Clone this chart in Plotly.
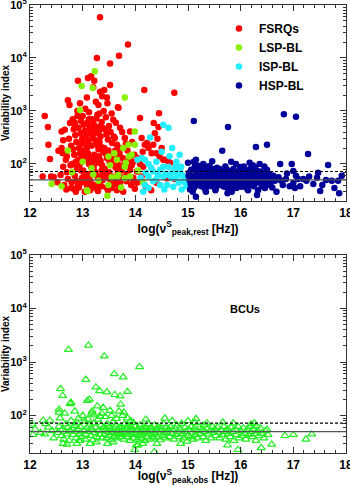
import plotly.graph_objects as go

# FSRQs (red filled circles)
fsrq_x = [12.24, 12.28, 12.34, 12.35, 12.38, 12.40, 12.45, 12.54, 12.58, 12.52,
          12.60, 12.63, 12.60, 12.62, 12.63, 12.66, 12.72, 12.75, 12.76, 12.68,
          12.70, 12.72, 12.65, 12.78, 12.74, 12.78, 12.70, 12.77, 12.69, 12.79,
          12.81, 12.85, 12.90, 12.91, 12.95, 12.97, 12.83, 12.86, 12.88, 12.92,
          12.96, 12.99, 12.82, 12.84, 12.87, 12.89, 12.93, 12.95, 12.98, 12.81,
          12.85, 12.88, 12.91, 12.94, 12.97, 12.99, 12.83, 12.87, 12.93, 12.96,
          12.80, 12.92, 12.98, 12.86, 12.90,
          13.00, 13.05, 13.08, 13.10, 13.12, 13.16, 13.18, 13.02, 13.04, 13.07,
          13.09, 13.11, 13.13, 13.15, 13.17, 13.19, 13.01, 13.03, 13.06, 13.08,
          13.10, 13.12, 13.14, 13.16, 13.18, 13.01, 13.03, 13.05, 13.07, 13.09,
          13.11, 13.13, 13.15, 13.17, 13.19, 13.04, 13.14, 13.06, 13.16, 13.12,
          13.20, 13.22, 13.25, 13.27, 13.28, 13.30, 13.33, 13.33, 13.36, 13.37,
          13.21, 13.23, 13.26, 13.29, 13.31, 13.34, 13.38, 13.24, 13.27, 13.30,
          13.32, 13.35, 13.39, 13.22, 13.25, 13.28, 13.31, 13.34, 13.37, 13.21,
          13.24, 13.27, 13.30, 13.33, 13.36, 13.39, 13.23, 13.26, 13.29, 13.35,
          13.38, 13.32, 13.26,
          13.41, 13.44, 13.46, 13.47, 13.52, 13.52, 13.55, 13.58, 13.40, 13.42,
          13.45, 13.48, 13.50, 13.53, 13.56, 13.59, 13.41, 13.43, 13.46, 13.49,
          13.51, 13.54, 13.57, 13.42, 13.44, 13.47, 13.50, 13.53, 13.56, 13.59,
          13.45, 13.48, 13.55, 13.58,
          13.61, 13.65, 13.67, 13.68, 13.69, 13.71, 13.75, 13.80, 13.65, 13.71,
          13.77, 13.62, 13.64, 13.66, 13.70, 13.73, 13.76, 13.79, 13.63, 13.67,
          13.70, 13.74, 13.78, 13.61, 13.69, 13.72, 13.63,
          13.83, 13.86, 13.90, 13.90, 13.96, 13.90, 13.96, 13.96, 13.82, 13.85,
          13.88, 13.93, 13.98, 13.84, 13.92, 13.99, 13.87, 13.94,
          14.03, 14.03, 14.09, 14.09, 14.10, 14.12, 14.12, 14.15, 14.17, 14.18,
          14.20, 14.22, 14.25, 14.30, 14.31, 14.34, 14.35, 14.37, 14.05, 14.14,
          14.40, 14.40, 14.44, 14.45, 14.46, 14.50, 14.42, 14.53, 14.56, 14.60,
          14.63, 14.66, 14.74, 14.75, 15.86, 16.41]
fsrq_y = [58, 800, 500, 230, 124, 58, 57, 178, 62, 45,
          410, 280, 200, 160, 89, 440, 1600, 1290, 590, 120,
          70, 52, 40, 35, 300, 220, 140, 95, 33, 45,
          700, 600, 1000, 3700, 1400, 650, 450, 350, 260, 480,
          380, 300, 190, 150, 110, 85, 200, 160, 130, 70,
          60, 48, 40, 95, 75, 55, 34, 30, 36, 44,
          100, 120, 240, 520, 800,
          800, 1100, 1800, 4200, 950, 4500, 700, 550, 420, 340,
          600, 270, 480, 380, 220, 310, 180, 140, 120, 200,
          160, 100, 130, 90, 110, 75, 60, 50, 42, 35,
          65, 55, 46, 38, 80, 30, 32, 250, 520, 700,
          2800, 3700, 1500, 10000, 850, 1300, 59000, 2300, 620, 1900,
          560, 450, 380, 500, 420, 330, 480, 280, 230, 190,
          260, 210, 170, 150, 125, 105, 140, 115, 95, 85,
          70, 60, 52, 45, 75, 62, 40, 34, 31, 38,
          50, 900, 720,
          2500, 760, 1800, 1400, 7900, 3100, 900, 680, 1000, 450,
          360, 290, 520, 400, 250, 330, 200, 160, 130, 180,
          110, 145, 95, 80, 65, 55, 70, 48, 58, 42,
          36, 32, 35, 120,
          310, 230, 1180, 1150, 11000, 480, 400, 310, 32, 44,
          30, 180, 140, 110, 160, 200, 130, 100, 85, 70,
          60, 75, 55, 48, 38, 90, 600,
          47, 18000, 410, 138, 110, 78, 55, 50, 240, 180,
          120, 95, 150, 65, 40, 34, 90, 260,
          44, 72, 100, 740, 47, 310, 58, 89, 2500, 230,
          37, 250, 200, 32, 160, 230, 590, 380, 130, 170,
          160, 44, 500, 910, 138, 200, 300, 120, 120, 54,
          110, 105, 2200, 52, 38, 48]

# LSP-BL (yellow-green filled circles)
lsp_x = [12.41, 12.72, 12.95, 12.98, 13.19, 13.23, 13.80, 13.09, 13.08, 13.47,
         13.49, 13.52, 13.17, 13.20, 13.49, 13.55, 13.87, 13.99, 13.77, 13.88,
         13.65, 13.80, 13.68, 13.80, 13.90, 13.99, 13.82, 13.93, 13.65, 13.73,
         13.30, 13.00, 12.80, 13.60, 14.05, 14.15, 12.60]
lsp_y = [42, 180, 1040, 2950, 2700, 5600, 1800, 31, 32, 25,
         138, 95, 83, 63, 40, 56, 230, 230, 200, 138,
         120, 89, 62, 54, 58, 410, 105, 150, 58, 36,
         48, 110, 70, 160, 75, 45, 38]

# ISP-BL (cyan filled circles)
isp_x = [14.53, 14.63, 14.28, 14.12, 14.18, 14.25, 14.53, 14.63, 14.47, 14.78,
         14.75, 14.87, 14.34, 14.43, 14.53, 14.63, 14.69, 14.78, 14.88, 14.94,
         14.34, 14.47, 14.60, 14.72, 14.25, 14.82, 14.91, 14.18, 14.25, 14.04,
         14.78, 14.85, 14.80, 14.90, 14.95, 14.70, 14.58, 14.40, 14.30, 14.20,
         14.10, 14.65, 14.50, 14.40, 14.97, 14.88, 14.55, 14.15, 14.84, 14.70]
isp_y = [550, 480, 316, 130, 120, 100, 89, 89, 78, 96,
         83, 89, 72, 62, 58, 62, 54, 54, 62, 54,
         47, 40, 40, 37, 35, 44, 47, 40, 58, 120,
         110, 74, 66, 60, 45, 70, 66, 52, 85, 68,
         55, 140, 170, 110, 38, 33, 33, 30, 150, 200]

# HSP-BL (navy filled circles)
hsp_x = [15.11, 15.76, 16.82, 17.05, 15.65, 16.29, 16.50, 17.28, 15.82, 15.11,
         16.75, 17.66, 17.00, 17.47, 17.85, 17.73, 17.51, 17.87, 15.15, 16.31,
         15.00, 15.02, 15.03, 15.05, 15.06, 15.08, 15.10, 15.12, 15.13, 15.14,
         15.16, 15.17, 15.18, 15.19, 15.20, 15.04, 15.09, 15.15, 15.01, 15.11,
         15.21, 15.22, 15.24, 15.25, 15.26, 15.27, 15.28, 15.30, 15.31, 15.32,
         15.33, 15.35, 15.36, 15.37, 15.38, 15.39, 15.29, 15.34, 15.23, 15.40,
         15.41, 15.42, 15.43, 15.44, 15.45, 15.46, 15.47, 15.48, 15.49, 15.50,
         15.51, 15.52, 15.53, 15.54, 15.55, 15.56, 15.57, 15.58, 15.59, 15.60,
         15.52, 15.46,
         15.61, 15.62, 15.63, 15.64, 15.66, 15.67, 15.68, 15.69, 15.70, 15.70,
         15.72, 15.73, 15.74, 15.75, 15.77, 15.78, 15.79, 15.80, 15.71, 15.76,
         15.81, 15.82, 15.84, 15.85, 15.86, 15.87, 15.88, 15.89, 15.90, 15.92,
         15.93, 15.94, 15.95, 15.96, 15.97, 15.98, 15.99, 15.83, 15.91, 15.95,
         16.01, 16.01, 16.02, 16.04, 16.05, 16.07, 16.08, 16.09, 16.11, 16.12,
         16.13, 16.15, 16.16, 16.18, 16.19, 16.20, 16.06, 16.14, 16.17, 16.10,
         16.21, 16.22, 16.24, 16.25, 16.26, 16.27, 16.28, 16.30, 16.30, 16.32,
         16.33, 16.34, 16.35, 16.37, 16.38, 16.39, 16.40, 16.23, 16.36,
         16.41, 16.43, 16.44, 16.46, 16.46, 16.48, 16.50, 16.52, 16.53, 16.55,
         16.56, 16.58, 16.59, 16.62, 16.65, 16.68, 16.45, 16.60,
         16.72, 16.77, 16.80, 16.86, 16.88, 16.93, 17.00, 17.03, 17.05, 17.09,
         17.13, 17.19, 17.25, 17.30, 17.38, 16.97,
         17.45, 17.55, 17.62, 17.78, 17.92]
hsp_y = [650, 500, 870, 780, 178, 210, 230, 155, 110, 110,
         100, 96, 74, 68, 48, 48, 31, 28, 24, 26,
         105, 68, 50, 42, 78, 58, 48, 36, 89, 62,
         45, 72, 55, 40, 93, 33, 30, 120, 60, 52,
         65, 48, 58, 38, 40, 75, 52, 44, 68, 34,
         55, 89, 37, 62, 47, 72, 100, 30, 85, 53,
         92, 60, 45, 70, 38, 55, 80, 50, 42, 65,
         78, 48, 35, 58, 85, 44, 62, 52, 40, 80,
         32, 112,
         66, 50, 42, 58, 72, 38, 54, 46, 66, 37,
         60, 48, 78, 28, 66, 52, 40, 58, 90, 34,
         70, 48, 56, 42, 80, 60, 36, 66, 50, 35,
         58, 44, 72, 54, 40, 62, 88, 30, 100, 62,
         80, 37, 55, 46, 66, 40, 62, 50, 35, 70,
         58, 44, 52, 80, 62, 40, 90, 32, 105, 75,
         56, 48, 70, 38, 60, 87, 52, 75, 44, 58,
         32, 66, 50, 72, 45, 60, 38, 95, 100,
         55, 68, 42, 62, 35, 50, 78, 56, 44, 65,
         40, 52, 48, 60, 48, 30, 90, 36,
         56, 48, 40, 52, 66, 38, 44, 35, 60, 52,
         38, 52, 48, 58, 42, 100,
         55, 40, 50, 35, 60]

# BCUs (green open triangles), lower panel
bcu_x = [12.73, 13.11, 13.41, 14.08, 13.60, 13.06, 13.77, 12.58, 12.62, 13.25,
         13.32, 13.46, 13.61, 13.85, 13.71, 12.76, 12.78, 13.09, 13.13, 13.39,
         13.72, 13.69, 13.78, 13.52, 12.55, 12.66, 13.17, 13.21, 13.33, 12.25,
         12.38, 12.04, 12.92, 13.96, 14.36, 13.99, 14.02, 12.70, 12.06, 12.28,
         15.15, 15.00, 15.30, 16.20, 16.50, 16.84, 17.00, 17.35, 17.24, 16.59,
         15.95, 16.39, 15.75,
         12.10, 12.20, 12.35, 12.45, 12.42, 12.30,
         12.52, 12.55, 12.57, 12.60, 12.62, 12.64, 12.66, 12.68, 12.70, 12.72,
         12.74, 12.76, 12.78, 12.55, 12.63,
         12.80, 12.82, 12.84, 12.86, 12.88, 12.90, 12.92, 12.94, 12.96, 12.98,
         13.00, 13.02, 13.04, 13.06, 13.08, 12.85, 12.95, 13.05, 13.10, 12.89,
         13.11, 13.13, 13.15, 13.17, 13.19, 13.21, 13.23, 13.25, 13.27, 13.29,
         13.31, 13.33, 13.35, 13.37, 13.39, 13.14, 13.26, 13.36, 13.28, 13.18,
         13.41, 13.42, 13.44, 13.45, 13.47, 13.48, 13.50, 13.51, 13.53, 13.54,
         13.56, 13.57, 13.59, 13.60, 13.62, 13.63, 13.65, 13.66, 13.68, 13.69,
         13.43, 13.55, 13.64, 13.47, 13.58,
         13.71, 13.72, 13.74, 13.75, 13.77, 13.78, 13.80, 13.81, 13.83, 13.84,
         13.86, 13.87, 13.89, 13.90, 13.92, 13.93, 13.95, 13.97, 13.98, 13.76,
         13.85, 13.91,
         14.00, 14.01, 14.03, 14.04, 14.06, 14.07, 14.09, 14.10, 14.12, 14.13,
         14.15, 14.16, 14.18, 14.19, 14.21, 14.22, 14.24, 14.25, 14.27, 14.28,
         14.05, 14.14, 14.20,
         14.30, 14.32, 14.33, 14.35, 14.37, 14.38, 14.40, 14.42, 14.43, 14.45,
         14.47, 14.48, 14.50, 14.52, 14.53, 14.55, 14.57, 14.58, 14.56, 14.41,
         14.61, 14.63, 14.65, 14.67, 14.69, 14.71, 14.73, 14.75, 14.77, 14.79,
         14.81, 14.83, 14.85, 14.88, 14.90, 14.92, 14.94, 14.96, 14.98, 14.86,
         14.70, 14.99,
         15.02, 15.04, 15.06, 15.08, 15.10, 15.12, 15.14, 15.17, 15.19, 15.22,
         15.24, 15.27, 15.29, 15.32, 15.34, 15.37, 15.39, 15.42, 15.44, 15.47,
         15.49, 15.13, 15.36,
         15.51, 15.53, 15.56, 15.58, 15.60, 15.63, 15.65, 15.68, 15.70, 15.72,
         15.75, 15.77, 15.80, 15.82, 15.85, 15.87, 15.90, 15.92, 15.95, 15.97,
         15.66, 15.86,
         16.00, 16.03, 16.05, 16.08, 16.10, 16.12, 16.15, 16.17, 16.19, 16.22,
         16.24, 16.27, 16.29, 16.32, 16.35, 16.38, 16.41, 16.44, 16.47, 16.52,
         16.26, 16.30]
bcu_y = [1700, 2050, 1290, 810, 600, 470, 525, 316, 235, 340,
         290, 275, 245, 280, 230, 166, 175, 190, 200, 141,
         162, 120, 115, 124, 115, 110, 110, 102, 96, 81,
         81, 69, 89, 74, 21, 23, 28, 29, 44, 45,
         87, 80, 66, 69, 55, 42, 44, 45, 36, 29,
         23, 25, 28,
         55, 48, 60, 38, 52, 70,
         48, 62, 90, 42, 55, 36, 50, 70, 45, 60,
         34, 52, 80, 130, 30,
         58, 44, 65, 50, 38, 72, 55, 46, 62, 40,
         100, 52, 78, 44, 60, 120, 34, 36, 85, 30,
         50, 66, 42, 56, 35, 72, 48, 60, 40, 85,
         52, 44, 66, 38, 58, 30, 32, 110, 150, 120,
         62, 45, 55, 38, 70, 50, 42, 62, 35, 56,
         48, 75, 40, 58, 46, 66, 38, 52, 44, 60,
         95, 100, 88, 30, 32,
         50, 40, 62, 46, 55, 36, 70, 48, 58, 40,
         65, 44, 52, 34, 60, 45, 55, 38, 48, 100,
         90, 80,
         62, 44, 52, 36, 58, 42, 66, 48, 38, 55,
         45, 62, 34, 50, 58, 40, 70, 46, 54, 36,
         28, 30, 85,
         60, 44, 52, 38, 66, 48, 56, 40, 62, 45,
         54, 35, 58, 42, 70, 50, 38, 60, 89, 30,
         48, 56, 40, 62, 46, 54, 36, 58, 44, 66,
         50, 40, 56, 71, 46, 38, 60, 50, 33, 30,
         80, 42,
         55, 40, 62, 48, 36, 58, 44, 52, 38, 60,
         46, 55, 40, 50, 34, 58, 45, 52, 38, 62,
         48, 74, 72,
         56, 42, 60, 48, 38, 54, 44, 62, 50, 36,
         56, 46, 40, 60, 50, 34, 55, 44, 62, 38,
         75, 72,
         52, 42, 58, 46, 36, 55, 44, 62, 50, 40,
         56, 46, 34, 52, 42, 58, 46, 38, 52, 44,
         72, 64]

vi_solid = 50     # solid reference line
vi_dashed = 72    # dashed reference line

x_ticks = [12, 13, 14, 15, 16, 17, 18]
y_ticks = [1e2, 1e3, 1e4, 1e5]
y_ticktext = ['10<sup>2</sup>', '10<sup>3</sup>', '10<sup>4</sup>', '10<sup>5</sup>']
y_minor = [m * 10 ** e for e in range(1, 5) for m in range(2, 10) if m * 10 ** e >= 20]

font = 'Liberation Sans, Arial, sans-serif'
bold = dict(family=font, size=12, color='black', weight='bold')

fig = go.Figure()
fig.add_trace(go.Scatter(x=fsrq_x, y=fsrq_y, mode='markers', name='FSRQs',
                         marker=dict(color='#ff0000', size=6.5), xaxis='x', yaxis='y'))
fig.add_trace(go.Scatter(x=lsp_x, y=lsp_y, mode='markers', name='LSP-BL',
                         marker=dict(color='#88f000', size=6.5), xaxis='x', yaxis='y'))
fig.add_trace(go.Scatter(x=isp_x, y=isp_y, mode='markers', name='ISP-BL',
                         marker=dict(color='#22eeff', size=6.5), xaxis='x', yaxis='y'))
fig.add_trace(go.Scatter(x=hsp_x, y=hsp_y, mode='markers', name='HSP-BL',
                         marker=dict(color='#000099', size=6.5), xaxis='x', yaxis='y'))
fig.add_trace(go.Scatter(x=bcu_x, y=bcu_y, mode='markers', name='BCUs', showlegend=False,
                         marker=dict(symbol='triangle-up-open', color='#22ee22', size=7,
                                     line=dict(width=1.2)),
                         xaxis='x2', yaxis='y2'))

def xax(title, anchor):
    return dict(range=[12, 18], anchor=anchor, tickvals=x_ticks, ticks='inside', ticklen=6,
                tickcolor='#333', showline=True, linecolor='#333', linewidth=1.2,
                mirror='allticks', showgrid=False, zeroline=False, tickfont=bold,
                automargin=False, ticklabeloverflow='allow',
                minor=dict(ticks='inside', ticklen=3, dtick=0.2, tick0=12, tickcolor='#333'),
                title=dict(text=title, font=dict(family=font, size=12, color='black', weight='bold'),
                           standoff=0))

def yax(domain, anchor):
    return dict(type='log', range=[1.30103, 5], domain=domain, anchor=anchor,
                tickvals=y_ticks, ticktext=y_ticktext, ticks='inside', ticklen=6,
                tickcolor='#333', showline=True, linecolor='#333', linewidth=1.2,
                mirror='allticks', showgrid=False, zeroline=False, automargin=False,
                ticklabeloverflow='allow',
                tickfont=dict(family=font, size=11, color='black', weight='bold'),
                minor=dict(ticks='inside', ticklen=3, tickvals=y_minor, tickcolor='#333'),
                title=dict(text='Variability index', standoff=2,
                           font=dict(family=font, size=10, color='black', weight='bold')))

shapes = []
for yref in ['y', 'y2']:
    xref = 'x domain' if yref == 'y' else 'x2 domain'
    shapes.append(dict(type='line', xref=xref, x0=0, x1=1, yref=yref, y0=vi_solid, y1=vi_solid,
                       line=dict(color='#555', width=1.2)))
    shapes.append(dict(type='line', xref=xref, x0=0, x1=1, yref=yref, y0=vi_dashed, y1=vi_dashed,
                       line=dict(color='black', width=1.2, dash='3px,2px')))

fig.update_layout(
    width=350, height=485,
    margin=dict(l=30, r=4, t=5, b=32),
    paper_bgcolor='white', plot_bgcolor='white',
    showlegend=True,
    xaxis=xax('log(ν<sup>S</sup><sub>peak,rest</sub> [Hz])', 'y'),
    xaxis2=xax('log(ν<sup>S</sup><sub>peak,obs</sub> [Hz])', 'y2'),
    yaxis=yax([0.5625, 1], 'x'),
    yaxis2=yax([0, 0.442], 'x2'),
    shapes=shapes,
    legend=dict(x=0.598, y=0.98, xanchor='left', yanchor='top', bgcolor='rgba(0,0,0,0)',
                font=dict(family=font, size=12, color='black', weight='bold')),
    annotations=[dict(text='BCUs', xref='x2', yref='y2', x=16.08, y=4, showarrow=False,
                      font=dict(family=font, size=11, color='black', weight='bold'))],
)

fig.write_html('out.html', config={'displayModeBar': False},
               post_script="document.body.style.margin='0';")
